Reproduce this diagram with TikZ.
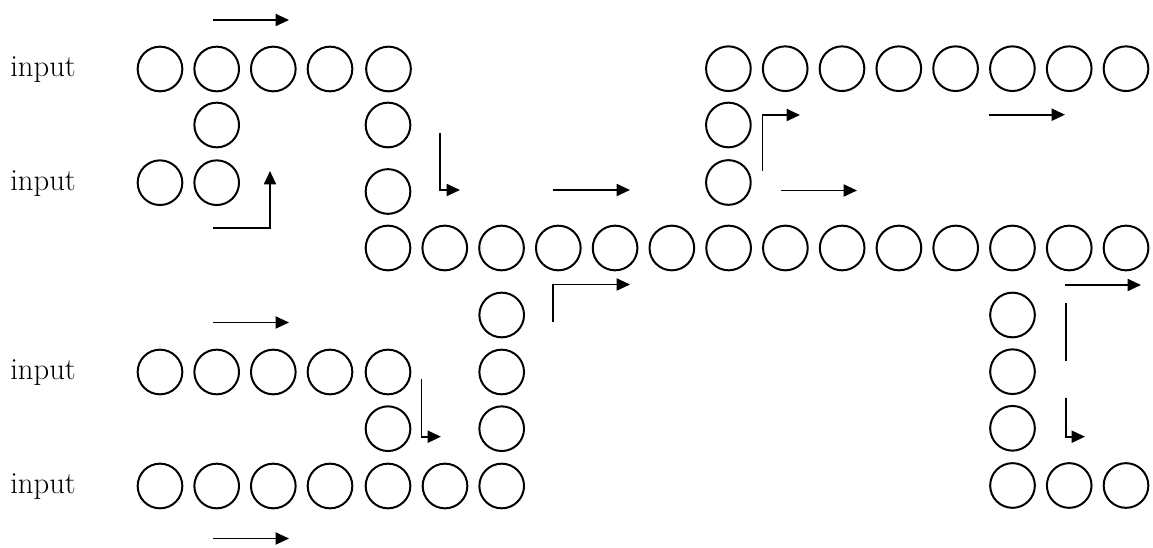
\documentclass[tikz,border=0pt]{standalone}
\usetikzlibrary{arrows.meta}
\begin{document}
\begin{tikzpicture}[x=0.75pt,y=-0.75pt,
  cell/.style={circle,draw,line width=1.5pt,minimum size=33.5pt,inner sep=0pt},
  flow/.style={line width=1.4pt,-{Triangle[length=10pt,width=9pt]}},
  bare/.style={line width=1.4pt},
  lbl/.style={anchor=base west,font=\fontsize{23}{26}\selectfont,inner sep=0pt}]
\useasboundingbox (0,0) rectangle (1153,548);
% labels
\node[lbl] (in1) at (10,77) {input};
\node[lbl] (in2) at (10,190.5) {input};
\node[lbl] (in3) at (10,380) {input};
\node[lbl] (in4) at (10,494) {input};
% top-left group
\foreach \x [count=\n] in {160,216.7,273.3,330,388.5}
  \node[cell] (ta\n) at (\x,69) {};
\node[cell] (tb1) at (216.7,125) {};
\node[cell] (tb2) at (388,125) {};
\node[cell] (tc1) at (160,182.7) {};
\node[cell] (tc2) at (216.7,182.7) {};
\node[cell] (tc3) at (388,191.5) {};
% main row
\foreach \k in {0,...,13}
  \node[cell] (m\k) at (388+56.77*\k,248) {};
% top-right group
\node[cell] (rb1) at (728.4,125) {};
\node[cell] (rb2) at (728.4,182.5) {};
\foreach \k in {0,...,7}
  \node[cell] (ra\k) at (728.4+56.8*\k,68.7) {};
% bottom-middle column
\node[cell] (bc1) at (501.7,315) {};
\node[cell] (bc2) at (501.7,372) {};
\node[cell] (bc3) at (501.7,428.7) {};
% bottom-left rows
\foreach \x [count=\n] in {160,216.7,273.3,330,388}
  \node[cell] (ba\n) at (\x,372) {};
\node[cell] (bb1) at (388,428.7) {};
\foreach \x [count=\n] in {160,216.7,273.3,330,388,445,501.7}
  \node[cell] (bd\n) at (\x,486) {};
% bottom-right group
\node[cell] (rc1) at (1012.5,315) {};
\node[cell] (rc2) at (1012.5,371.7) {};
\node[cell] (rc3) at (1012.5,428.3) {};
\foreach \x [count=\n] in {1012.5,1069.2,1126}
  \node[cell] (rd\n) at (\x,485.5) {};
% arrow coordinates
\coordinate (a1s) at (213,20);   \coordinate (a1e) at (289,20);
\coordinate (a2s) at (213,228);  \coordinate (a2m) at (270,228); \coordinate (a2e) at (270,171);
\coordinate (a3s) at (440,133);  \coordinate (a3m) at (440,190); \coordinate (a3e) at (460,190);
\coordinate (a4s) at (553,190);  \coordinate (a4e) at (630,190);
\coordinate (a5s) at (553,322);  \coordinate (a5m) at (553,284.5); \coordinate (a5e) at (630,284.5);
\coordinate (a6s) at (762.5,171); \coordinate (a6m) at (762.5,115); \coordinate (a6e) at (800,115);
\coordinate (a7s) at (781,190.5); \coordinate (a7e) at (857,190.5);
\coordinate (a8s) at (989,114.7); \coordinate (a8e) at (1065,114.7);
\coordinate (a9s) at (1065,285);  \coordinate (a9e) at (1141,285);
\coordinate (a10s) at (1065.7,303); \coordinate (a10e) at (1065.7,361);
\coordinate (a11s) at (1065.7,398); \coordinate (a11m) at (1065.7,436.7); \coordinate (a11e) at (1085,436.7);
\coordinate (a12s) at (213,322.5); \coordinate (a12e) at (289,322.5);
\coordinate (a13s) at (421.5,379); \coordinate (a13m) at (421.5,436.7); \coordinate (a13e) at (441,436.7);
\coordinate (a14s) at (213,538.5); \coordinate (a14e) at (289,538.5);
% arrows
\draw[flow] (a1s) -- (a1e);
\draw[flow] (a2s) -- (a2m) -- (a2e);
\draw[flow] (a3s) -- (a3m) -- (a3e);
\draw[flow] (a4s) -- (a4e);
\draw[flow] (a5s) -- (a5m) -- (a5e);
\draw[flow] (a6s) -- (a6m) -- (a6e);
\draw[flow] (a7s) -- (a7e);
\draw[flow] (a8s) -- (a8e);
\draw[flow] (a9s) -- (a9e);
\draw[bare] (a10s) -- (a10e);
\draw[flow] (a11s) -- (a11m) -- (a11e);
\draw[flow] (a12s) -- (a12e);
\draw[flow] (a13s) -- (a13m) -- (a13e);
\draw[flow] (a14s) -- (a14e);
\end{tikzpicture}
\end{document}
